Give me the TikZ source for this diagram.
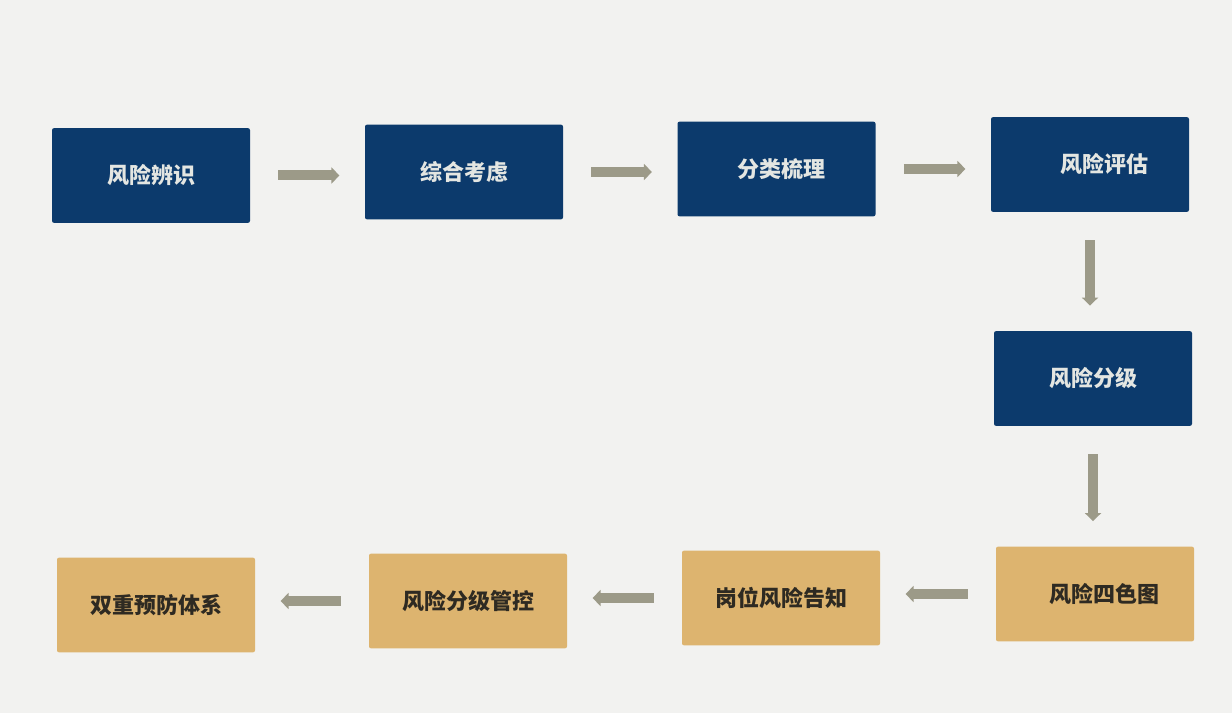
\documentclass[tikz,border=0pt]{standalone}
\usepackage{fontspec}
\newfontfamily\cjk{Noto Sans CJK SC}
\usetikzlibrary{arrows.meta}
\definecolor{bg}{HTML}{F2F2F0}
\definecolor{navy}{HTML}{0C3A6C}
\definecolor{tan}{HTML}{DDB46F}
\definecolor{arr}{HTML}{9C9A88}
\definecolor{lighttext}{HTML}{E4E6E2}
\definecolor{darktext}{HTML}{2E2A22}
\tikzset{
  box/.style={minimum width=148.5pt, minimum height=71pt, rounded corners=1.5pt, inner sep=0pt,
    font=\cjk\bfseries\fontsize{16.5}{18}\selectfont},
  bluebox/.style={box, fill=navy, text=lighttext},
  tanbox/.style={box, fill=tan, text=darktext},
  flow/.style={draw=arr, line width=7.5pt, -{Triangle[length=6pt,width=12pt]}, shorten <=21pt, shorten >=19pt},
}
\begin{document}
\begin{tikzpicture}[x=0.75pt,y=-0.75pt]
\fill[bg] (0,0) rectangle (1232,713);
\useasboundingbox (0,0) rectangle (1232,713);
\node[bluebox] (n1) at (151,175.5) {风险辨识};
\node[bluebox] (n2) at (464,172) {综合考虑};
\node[bluebox] (n3) at (776.5,169) {\hspace*{8pt}分类梳理};
\node[bluebox] (n4) at (1090,164.5) {\hspace*{22pt}风险评估};
\node[bluebox] (n5) at (1093,378.5) {风险分级};
\node[tanbox] (n6) at (1095,594) {\hspace*{14pt}风险四色图};
\node[tanbox] (n7) at (781,598) {岗位风险告知};
\node[tanbox] (n8) at (468,601) {风险分级管控};
\node[tanbox] (n9) at (156,605) {双重预防体系};
\draw[flow] (n1.east) -- (n1.east -| n2.west);
\draw[flow] (n2.east) -- (n2.east -| n3.west);
\draw[flow] (n3.east) -- (n3.east -| n4.west);
\draw[flow] (n4.south) -- (n4.south |- n5.north);
\draw[flow] (n5.south) -- (n5.south |- n6.north);
\draw[flow] (n6.west) -- (n6.west -| n7.east);
\draw[flow] (n7.west) -- (n7.west -| n8.east);
\draw[flow] (n8.west) -- (n8.west -| n9.east);
\end{tikzpicture}
\end{document}
